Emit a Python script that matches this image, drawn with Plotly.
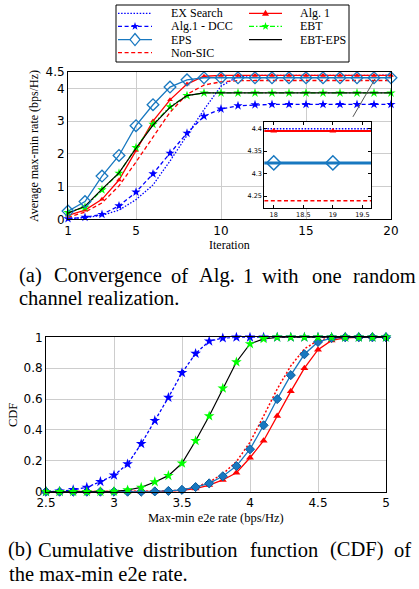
import math
import plotly.graph_objects as go

W, H = 419, 589

# ---------------- data: (a) convergence ----------------
iterations = [1, 2, 3, 4, 5, 6, 7, 8, 9, 10, 11, 12, 13, 14, 15, 16, 17, 18, 19, 20]
ex_search_a = [0.02, 0.05, 0.12, 0.28, 0.60, 1.05, 1.78, 2.55, 3.35, 4.07, 4.36, 4.398,
               4.40, 4.40, 4.40, 4.40, 4.40, 4.40, 4.40, 4.40]
dcc_a = [0.02, 0.06, 0.15, 0.41, 0.83, 1.39, 2.02, 2.63, 3.15, 3.37, 3.47, 3.50,
         3.51, 3.51, 3.51, 3.51, 3.51, 3.51, 3.51, 3.51]
eps_a = [0.25, 0.54, 1.32, 1.95, 2.86, 3.50, 4.04, 4.26, 4.324, 4.324, 4.324, 4.324,
         4.324, 4.324, 4.324, 4.324, 4.324, 4.324, 4.324, 4.324]
nonsic_a = [0.06, 0.22, 0.50, 1.02, 1.75, 2.53, 3.27, 3.82, 4.10, 4.20, 4.235, 4.24,
            4.24, 4.24, 4.24, 4.24, 4.24, 4.24, 4.24, 4.24]
alg1_a = [0.12, 0.28, 0.61, 1.20, 2.10, 3.00, 3.65, 4.13, 4.37, 4.395, 4.395, 4.395,
          4.395, 4.395, 4.395, 4.395, 4.395, 4.395, 4.395, 4.395]
ebt_a = [0.21, 0.37, 0.90, 1.41, 2.19, 2.90, 3.44, 3.78, 3.86, 3.86, 3.86, 3.86,
         3.86, 3.86, 3.86, 3.86, 3.86, 3.86, 3.86, 3.86]
ebteps_a = [0.19, 0.40, 0.92, 1.42, 2.17, 2.88, 3.42, 3.78, 3.86, 3.86, 3.86, 3.86,
            3.86, 3.86, 3.86, 3.86, 3.86, 3.86, 3.86, 3.86]

# ---------------- data: (b) CDF ----------------
rate = [2.5, 2.6, 2.7, 2.8, 2.9, 3.0, 3.1, 3.2, 3.3, 3.4, 3.5, 3.6, 3.7, 3.8, 3.9,
        4.0, 4.1, 4.2, 4.3, 4.4, 4.5, 4.6, 4.7, 4.8, 4.9, 5.0]
cdf_dcc = [0.0, 0.003, 0.012, 0.028, 0.065, 0.106, 0.179, 0.31, 0.46, 0.61, 0.77, 0.895,
           0.975, 0.995, 1.0, 1.0, 1.0, 1.0, 1.0, 1.0, 1.0, 1.0, 1.0, 1.0, 1.0, 1.0]
cdf_ebt = [0.0, 0.0, 0.0, 0.0, 0.0, 0.002, 0.011, 0.028, 0.063, 0.104, 0.184, 0.33,
           0.49, 0.67, 0.84, 0.957, 0.99, 1.0, 1.0, 1.0, 1.0, 1.0, 1.0, 1.0, 1.0, 1.0]
cdf_ebteps = [0.0, 0.0, 0.0, 0.0, 0.0, 0.002, 0.011, 0.028, 0.063, 0.104, 0.184, 0.33,
              0.49, 0.67, 0.84, 0.957, 0.99, 1.0, 1.0, 1.0, 1.0, 1.0, 1.0, 1.0, 1.0, 1.0]
cdf_eps = [0.0, 0.0, 0.0, 0.0, 0.0, 0.0, 0.0, 0.0, 0.002, 0.005, 0.012, 0.03,
           0.054, 0.10, 0.166, 0.275, 0.43, 0.60, 0.755, 0.89, 0.97, 0.995, 1.0, 1.0, 1.0, 1.0]
cdf_alg1 = [0.0, 0.0, 0.0, 0.0, 0.0, 0.0, 0.0, 0.0, 0.0, 0.003, 0.008, 0.02,
            0.043, 0.076, 0.123, 0.22, 0.33, 0.49, 0.65, 0.80, 0.92, 0.98, 0.997, 1.0, 1.0, 1.0]
cdf_nonsic = [0.0, 0.0, 0.0, 0.0, 0.0, 0.0, 0.0, 0.0, 0.001, 0.004, 0.012, 0.03,
              0.062, 0.115, 0.195, 0.32, 0.49, 0.665, 0.815, 0.925, 0.98, 0.997, 1.0, 1.0, 1.0, 1.0]

# ---------------- ticks ----------------
xticks_a = [1, 5, 10, 15, 20]
yticks_a = [0, 1, 2, 3, 4, 4.5]
yticklabels_a = ["0", "1", "2", "3", "4", "4.5"]
xticks_in = [18, 18.5, 19, 19.5]
yticks_in = [4.25, 4.3, 4.35, 4.4]
xticks_b = [2.5, 3, 3.5, 4, 4.5, 5]
xticklabels_b = ["2.5", "3", "3.5", "4", "4.5", "5"]
yticks_b = [0, 0.2, 0.4, 0.6, 0.8, 1]
yticklabels_b = ["0", "0.2", "0.4", "0.6", "0.8", "1"]

legend_names = ["EX Search", "Alg.1 - DCC", "EPS", "Non-SIC", "Alg. 1", "EBT", "EBT-EPS"]

# ---------------- styles ----------------
BLUE = "#0000ff"
RED = "#ff0000"
GREEN = "#00ff00"
EPSC = "#1878c0"
BLACK = "#000000"
DOT = "1.5px,1.6px"
DASH = "4px,2.6px"
DASHDOT = "5px,2px,1.5px,2px"
SERIF = "Liberation Serif"
SANS = "DejaVu Sans"


def px_x(x):
    return x / W


def px_y(y):
    return 1 - y / H


fig = go.Figure()

# ---- (a) main convergence plot ----
fig.add_trace(go.Scatter(x=iterations, y=ex_search_a, mode="lines", name=legend_names[0],
                         line=dict(color=BLUE, width=1.3, dash=DOT), xaxis="x", yaxis="y", cliponaxis=False))
fig.add_trace(go.Scatter(x=iterations, y=dcc_a, mode="lines+markers", name=legend_names[1],
                         line=dict(color=BLUE, width=1.3, dash=DASH),
                         marker=dict(symbol="star", size=7, color=BLUE, line=dict(width=0)),
                         xaxis="x", yaxis="y", cliponaxis=False))
fig.add_trace(go.Scatter(x=iterations, y=nonsic_a, mode="lines", name=legend_names[3],
                         line=dict(color=RED, width=1.3, dash=DASH), xaxis="x", yaxis="y", cliponaxis=False))
fig.add_trace(go.Scatter(x=iterations, y=alg1_a, mode="lines+markers", name=legend_names[4],
                         line=dict(color=RED, width=1.3),
                         marker=dict(symbol="triangle-up", size=5, color=RED, line=dict(width=0)),
                         xaxis="x", yaxis="y", cliponaxis=False))
fig.add_trace(go.Scatter(x=iterations, y=ebt_a, mode="lines+markers", name=legend_names[5],
                         line=dict(color=GREEN, width=1.3, dash=DASHDOT),
                         marker=dict(symbol="star", size=7, color=GREEN, line=dict(width=0)),
                         xaxis="x", yaxis="y", cliponaxis=False))
fig.add_trace(go.Scatter(x=iterations, y=ebteps_a, mode="lines", name=legend_names[6],
                         line=dict(color=BLACK, width=1.2), xaxis="x", yaxis="y", cliponaxis=False))
fig.add_trace(go.Scatter(x=iterations, y=eps_a, mode="lines+markers", name=legend_names[2],
                         line=dict(color=EPSC, width=1.3),
                         marker=dict(symbol="diamond-open", size=9, color=EPSC, line=dict(width=1.3)),
                         xaxis="x", yaxis="y", cliponaxis=False))

# ---- inset (zoom of the converged values) ----
fig.add_trace(go.Scatter(x=iterations, y=ex_search_a, mode="lines",
                         line=dict(color=BLUE, width=1.5, dash=DOT), xaxis="x3", yaxis="y3"))
fig.add_trace(go.Scatter(x=iterations, y=nonsic_a, mode="lines",
                         line=dict(color=RED, width=1.5, dash=DASH), xaxis="x3", yaxis="y3"))
fig.add_trace(go.Scatter(x=iterations, y=alg1_a, mode="lines+markers",
                         line=dict(color=RED, width=2),
                         marker=dict(symbol="triangle-up", size=6, color=RED, line=dict(width=0)),
                         xaxis="x3", yaxis="y3"))
fig.add_trace(go.Scatter(x=iterations, y=eps_a, mode="lines+markers",
                         line=dict(color=EPSC, width=3),
                         marker=dict(symbol="diamond-open", size=11, color=EPSC, line=dict(width=1.5)),
                         xaxis="x3", yaxis="y3"))

# ---- (b) CDF plot ----
fig.add_trace(go.Scatter(x=rate, y=cdf_nonsic, mode="lines",
                         line=dict(color=RED, width=1.5, dash="2px,2px"), xaxis="x2", yaxis="y2", cliponaxis=False))
fig.add_trace(go.Scatter(x=rate, y=cdf_alg1, mode="lines+markers",
                         line=dict(color=RED, width=1.3),
                         marker=dict(symbol="triangle-up", size=7, color=RED, line=dict(width=0)),
                         xaxis="x2", yaxis="y2", cliponaxis=False))
fig.add_trace(go.Scatter(x=rate, y=cdf_eps, mode="lines+markers",
                         line=dict(color=EPSC, width=1.3),
                         marker=dict(symbol="diamond", size=7, color=EPSC, line=dict(width=1, color="#0a5a9a")),
                         xaxis="x2", yaxis="y2", cliponaxis=False))
fig.add_trace(go.Scatter(x=rate, y=cdf_dcc, mode="lines+markers",
                         line=dict(color=BLUE, width=1.3, dash="3px,2px"),
                         marker=dict(symbol="star", size=8, color=BLUE, line=dict(width=0)),
                         xaxis="x2", yaxis="y2", cliponaxis=False))
fig.add_trace(go.Scatter(x=rate, y=cdf_ebteps, mode="lines",
                         line=dict(color=BLACK, width=1.2), xaxis="x2", yaxis="y2", cliponaxis=False))
fig.add_trace(go.Scatter(x=rate, y=cdf_ebt, mode="markers",
                         marker=dict(symbol="star", size=8, color=GREEN, line=dict(width=0)),
                         xaxis="x2", yaxis="y2", cliponaxis=False))

# ---------------- axes ----------------
common = dict(showline=True, linecolor="black", linewidth=1, mirror=True,
              showgrid=True, gridcolor="#cdcdcd", gridwidth=1, zeroline=False, ticks="",
              tickfont=dict(family=SANS, size=12, color="black"))

fig.update_layout(
    width=W, height=H, margin=dict(l=0, r=0, t=0, b=0, autoexpand=False),
    paper_bgcolor="white", plot_bgcolor="white", showlegend=False,
    xaxis=dict(domain=[px_x(68), px_x(391)], range=[1, 20], tickvals=xticks_a,
               anchor="y", **common),
    yaxis=dict(domain=[px_y(219.3), px_y(72)], range=[0, 4.5], tickvals=yticks_a,
               ticktext=yticklabels_a, anchor="x", **common),
    xaxis2=dict(domain=[px_x(46), px_x(386)], range=[2.5, 5], tickvals=xticks_b,
                ticktext=xticklabels_b, anchor="y2", **common),
    yaxis2=dict(domain=[px_y(491.7), px_y(337.3)], range=[0, 1], tickvals=yticks_b,
                ticktext=yticklabels_b, anchor="x2", **common),
    xaxis3=dict(domain=[px_x(264.3), px_x(371.3)], range=[17.84, 19.65], tickvals=xticks_in,
                anchor="y3", showline=True, linecolor="black", linewidth=1, mirror="ticks",
                showgrid=False, zeroline=False, ticks="inside", ticklen=3, tickcolor="black",
                tickfont=dict(family=SANS, size=6.5, color="black")),
    yaxis3=dict(domain=[px_y(208.3), px_y(121.7)], range=[4.223, 4.4156], tickvals=yticks_in,
                anchor="x3", showline=True, linecolor="black", linewidth=1, mirror="ticks",
                showgrid=False, zeroline=False, ticks="inside", ticklen=3, tickcolor="black",
                tickfont=dict(family=SANS, size=6.5, color="black")),
)

shapes = []
annotations = []

# pointer line from inset to curves
shapes.append(dict(type="line", xref="x", yref="y", x0=17.76, y0=3.13, x1=19.06, y1=4.29,
                   line=dict(color="#555555", width=1)))

# ---------------- legend (drawn as decoration) ----------------
shapes.append(dict(type="rect", xref="paper", yref="paper",
                   x0=px_x(116), x1=px_x(349), y0=px_y(62), y1=px_y(5),
                   line=dict(color="black", width=1), fillcolor="white"))

legend_rows = [13.3, 26.3, 39.6, 52.7]
legend_cols = [(118, 152, 169), (249, 282, 298)]
legend_styles = [
    (BLUE, DOT, None),
    (BLUE, DASH, "star"),
    (EPSC, None, "diamond"),
    (RED, DASH, None),
    (RED, None, "triangle"),
    (GREEN, DASHDOT, "star"),
    (BLACK, None, None),
]


def path_from(points):
    s = "M " + " L ".join("%.6f,%.6f" % (px_x(x), px_y(y)) for x, y in points) + " Z"
    return s


for i, name in enumerate(legend_names):
    col = 0 if i < 4 else 1
    row = i if i < 4 else i - 4
    x0, x1, tx = legend_cols[col]
    y = legend_rows[row]
    color, dash, mk = legend_styles[i]
    ln = dict(color=color, width=1.3)
    if dash:
        ln["dash"] = dash
    shapes.append(dict(type="line", xref="paper", yref="paper",
                       x0=px_x(x0), x1=px_x(x1), y0=px_y(y), y1=px_y(y), line=ln))
    cx = (x0 + x1) / 2
    if mk == "star":
        pts = []
        for k in range(10):
            r = 4.2 if k % 2 == 0 else 1.7
            a = -math.pi / 2 + k * math.pi / 5
            pts.append((cx + r * math.cos(a), y + r * math.sin(a)))
        shapes.append(dict(type="path", xref="paper", yref="paper", path=path_from(pts),
                           fillcolor=color, line=dict(width=0)))
    elif mk == "diamond":
        pts = [(cx - 5, y), (cx, y - 6), (cx + 5, y), (cx, y + 6)]
        shapes.append(dict(type="path", xref="paper", yref="paper", path=path_from(pts),
                           fillcolor="white", line=dict(color=color, width=1.3)))
    elif mk == "triangle":
        pts = [(cx - 3.5, y + 2.5), (cx, y - 3.5), (cx + 3.5, y + 2.5)]
        shapes.append(dict(type="path", xref="paper", yref="paper", path=path_from(pts),
                           fillcolor=color, line=dict(width=0)))
    annotations.append(dict(text=name, xref="paper", yref="paper", x=px_x(tx), y=px_y(y),
                            xanchor="left", yanchor="middle", showarrow=False,
                            font=dict(family=SERIF, size=12, color="black")))

# ---------------- axis titles ----------------
annotations.append(dict(text="Average max-min rate (bps/Hz)", xref="paper", yref="paper",
                        x=px_x(34), y=px_y(146), textangle=-90, showarrow=False,
                        xanchor="center", yanchor="middle",
                        font=dict(family=SERIF, size=12, color="black")))
annotations.append(dict(text="Iteration", xref="paper", yref="paper",
                        x=px_x(229.5), y=px_y(244.5), showarrow=False,
                        xanchor="center", yanchor="middle",
                        font=dict(family=SERIF, size=12, color="black")))
annotations.append(dict(text="CDF", xref="paper", yref="paper",
                        x=px_x(13), y=px_y(415), textangle=-90, showarrow=False,
                        xanchor="center", yanchor="middle",
                        font=dict(family=SERIF, size=12.5, color="black")))
annotations.append(dict(text="Max-min e2e rate (bps/Hz)", xref="paper", yref="paper",
                        x=px_x(216), y=px_y(518), showarrow=False,
                        xanchor="center", yanchor="middle",
                        font=dict(family=SERIF, size=12.5, color="black")))

# ---------------- captions (justified word by word) ----------------
CAP = 20.5
caption_lines = [
    (275.8, [("(a)", 31), ("Convergence", 107.5), ("of", 179.7), ("Alg.", 217), ("1", 248),
             ("with", 280), ("one", 326.7), ("random", 384)]),
    (549.8, [("(b)", 20), ("Cumulative", 86.2), ("distribution", 190), ("function", 284.2),
             ("(CDF)", 356.7), ("of", 402.5)]),
]
for yc, words in caption_lines:
    for w, xc in words:
        annotations.append(dict(text=w, xref="paper", yref="paper", x=px_x(xc), y=px_y(yc),
                                xanchor="center", yanchor="middle", showarrow=False,
                                font=dict(family=SERIF, size=CAP, color="black")))
annotations.append(dict(text="channel realization.", xref="paper", yref="paper",
                        x=px_x(17.3), y=px_y(298.1), xanchor="left", yanchor="middle",
                        showarrow=False, font=dict(family=SERIF, size=CAP, color="black")))
annotations.append(dict(text="the max-min e2e rate.", xref="paper", yref="paper",
                        x=px_x(7.3), y=px_y(573.8), xanchor="left", yanchor="middle",
                        showarrow=False, font=dict(family=SERIF, size=CAP, color="black")))

fig.update_layout(shapes=shapes, annotations=annotations)
fig.write_html("out.html",
               config={"displayModeBar": False},
               post_script="document.body.style.margin='0';document.body.style.overflow='hidden';")
